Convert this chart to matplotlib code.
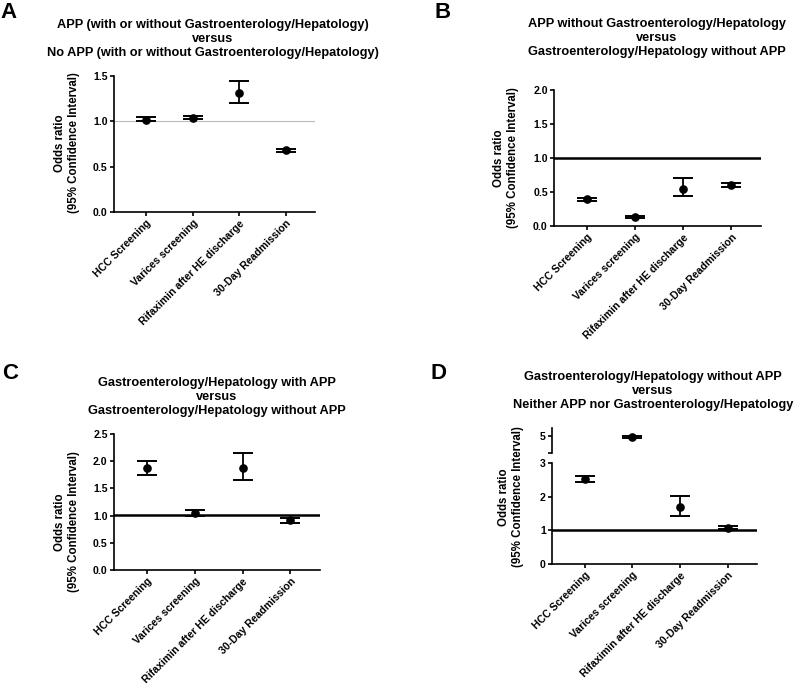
import matplotlib
matplotlib.use("Agg")
import matplotlib.pyplot as plt
import numpy as np

plt.rcParams['font.family'] = ['Liberation Sans', 'DejaVu Sans']
plt.rcParams['font.weight'] = 'bold'

categories = ["HCC Screening", "Varices screening", "Rifaximin after HE discharge", "30-Day Readmission"]

titles = {
    "A": "APP (with or without Gastroenterology/Hepatology)\nversus\nNo APP (with or without Gastroenterology/Hepatology)",
    "B": "APP without Gastroenterology/Hepatology\nversus\nGastroenterology/Hepatology without APP",
    "C": "Gastroenterology/Hepatology with APP\nversus\nGastroenterology/Hepatology without APP",
    "D": "Gastroenterology/Hepatology without APP\nversus\nNeither APP nor Gastroenterology/Hepatology",
}

or_A = [1.02, 1.04, 1.31, 0.68]
lo_A = [1.00, 1.03, 1.20, 0.66]
hi_A = [1.05, 1.06, 1.44, 0.70]

or_B = [0.39, 0.13, 0.54, 0.61]
lo_B = [0.37, 0.12, 0.44, 0.58]
hi_B = [0.41, 0.14, 0.71, 0.63]

or_C = [1.88, 1.05, 1.88, 0.91]
lo_C = [1.75, 1.00, 1.65, 0.87]
hi_C = [2.01, 1.10, 2.15, 0.95]

or_D = [2.52, 4.98, 1.70, 1.08]
lo_D = [2.43, 4.94, 1.44, 1.03]
hi_D = [2.60, 5.02, 2.03, 1.13]

W, H = 800, 683
fig = plt.figure(figsize=(W / 100, H / 100), dpi=100)

TITLE_FS = 9.2
YLAB_FS = 8.3
TICK_FS = 7.6


def rect(x0, y0, x1, y1):
    return [x0 / W, 1 - y1 / H, (x1 - x0) / W, (y1 - y0) / H]


def style(ax):
    for s in ["top", "right"]:
        ax.spines[s].set_visible(False)
    for s in ["left", "bottom"]:
        ax.spines[s].set_linewidth(1.2)
    ax.tick_params(axis="both", width=1.2, length=3, labelsize=TICK_FS, pad=1.5)
    for lab in ax.get_yticklabels():
        lab.set_fontweight("bold")


def draw(ax, vals, lo, hi):
    x = np.arange(len(vals))
    v = np.array(vals)
    yerr = [v - np.array(lo), np.array(hi) - v]
    ax.errorbar(x, v, yerr=yerr, fmt="o", color="black", ms=5.2,
                capsize=7, elinewidth=1.3, capthick=1.4, zorder=3)


def xcats(ax):
    ax.set_xticks(np.arange(len(categories)))
    ax.set_xticklabels(categories, rotation=45, ha="right", rotation_mode="anchor",
                       fontsize=TICK_FS, fontweight="bold")
    ax.set_xlim(-0.69, 3.62)


def title(x, y, key):
    fig.text(x / W, 1 - y / H, titles[key], ha="center", va="center",
             fontsize=TITLE_FS, fontweight="bold", linespacing=1.2)


def ylabel(x, y):
    fig.text(x / W, 1 - y / H, "Odds ratio\n(95% Confidence Interval)", rotation=90,
             ha="center", va="center", fontsize=YLAB_FS, fontweight="bold", linespacing=1.15)


def letter(x, y, s):
    fig.text(x / W, 1 - y / H, s, ha="left", va="center", fontsize=16, fontweight="bold")


# Panel A
axA = fig.add_axes(rect(114, 76, 315, 212))
axA.axhline(1.0, color="#bbbbbb", lw=0.8, zorder=1)
draw(axA, or_A, lo_A, hi_A)
axA.set_ylim(0, 1.5)
axA.set_yticks([0, 0.5, 1.0, 1.5])
axA.set_yticklabels(["0.0", "0.5", "1.0", "1.5"])
xcats(axA)
style(axA)
ylabel(67, 143)
title(213, 39, "A")
letter(0, 12, "A")

# Panel B
axB = fig.add_axes(rect(554, 90, 761, 226))
axB.axhline(1.0, color="black", lw=1.8, zorder=1)
draw(axB, or_B, lo_B, hi_B)
axB.set_ylim(0, 2.0)
axB.set_yticks([0, 0.5, 1.0, 1.5, 2.0])
axB.set_yticklabels(["0.0", "0.5", "1.0", "1.5", "2.0"])
xcats(axB)
style(axB)
ylabel(506, 158)
title(657, 38, "B")
letter(434, 12, "B")

# Panel C
axC = fig.add_axes(rect(114, 434, 320, 570))
axC.axhline(1.02, color="black", lw=1.8, zorder=1)
draw(axC, or_C, lo_C, hi_C)
axC.set_ylim(0, 2.5)
axC.set_yticks([0, 0.5, 1.0, 1.5, 2.0, 2.5])
axC.set_yticklabels(["0.0", "0.5", "1.0", "1.5", "2.0", "2.5"])
xcats(axC)
style(axC)
ylabel(67, 522)
title(217, 397, "C")
letter(2, 373, "C")

# Panel D (broken y axis)
axD = fig.add_axes(rect(552, 463, 757, 564))
axD.axhline(1.0, color="black", lw=1.8, zorder=1)
draw(axD, or_D, lo_D, hi_D)
axD.set_ylim(0, 3)
axD.set_yticks([0, 1, 2, 3])
xcats(axD)
style(axD)

axD2 = fig.add_axes(rect(552, 428, 757, 453), sharex=axD)
draw(axD2, or_D, lo_D, hi_D)
axD2.set_ylim(4.5, 5.25)
axD2.set_yticks([4.5, 5])
axD2.set_yticklabels(["", "5"])
style(axD2)
axD2.spines["bottom"].set_visible(False)
axD2.tick_params(axis="x", bottom=False, labelbottom=False)
axD2.patch.set_alpha(0)
ylabel(511, 497)
title(653, 391, "D")
letter(430, 373, "D")

fig.savefig("out.png", dpi=100)
